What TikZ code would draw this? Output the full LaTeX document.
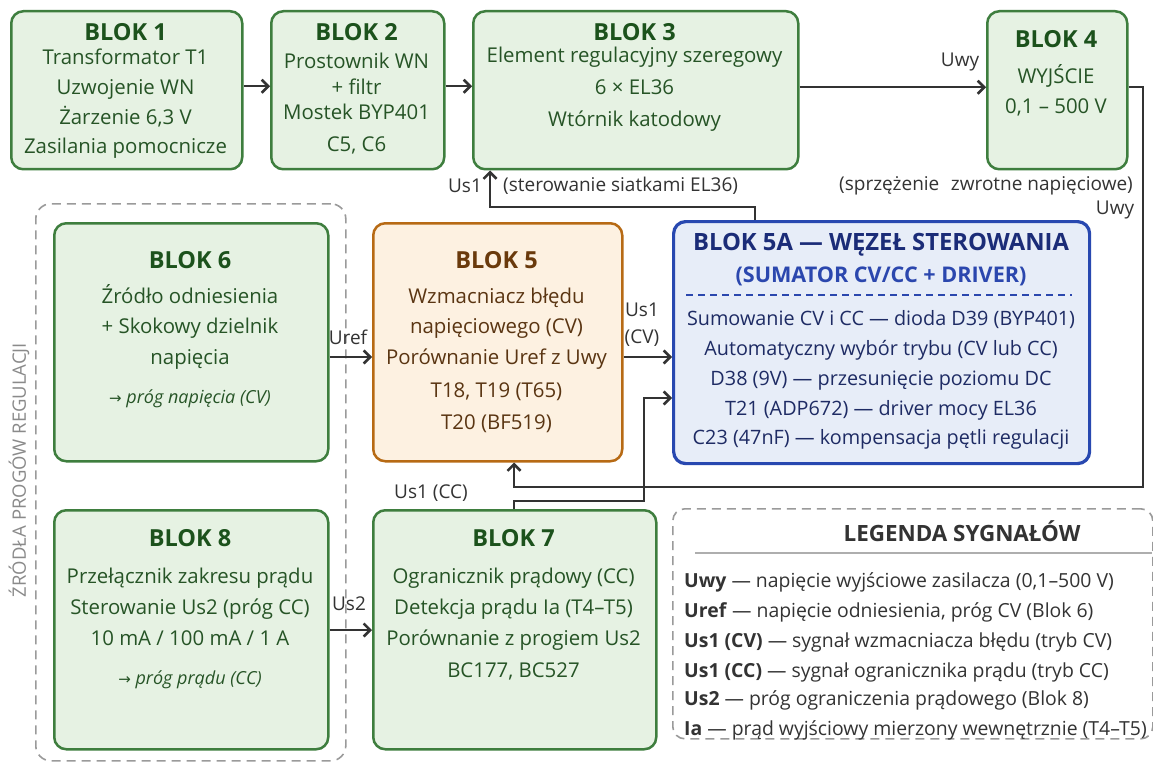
\documentclass[tikz,border=0pt]{standalone}
\usepackage{fontspec}
\setmainfont{Open Sans}
\newfontfamily\symf{DejaVu Sans}
\usetikzlibrary{arrows.meta}
\definecolor{gborder}{HTML}{3E7E3E}
\definecolor{gfill}{HTML}{E6F2E3}
\definecolor{gtitle}{HTML}{1C521C}
\definecolor{gtext}{HTML}{265426}
\definecolor{oborder}{HTML}{B76A14}
\definecolor{ofill}{HTML}{FDF1E1}
\definecolor{otitle}{HTML}{6A3A0C}
\definecolor{otext}{HTML}{5A3512}
\definecolor{bborder}{HTML}{2848B0}
\definecolor{bfill}{HTML}{E7EDF8}
\definecolor{btitle}{HTML}{1B2C78}
\definecolor{bsub}{HTML}{2B47AE}
\definecolor{btext}{HTML}{1E2B64}
\definecolor{wire}{HTML}{333333}
\definecolor{lgray}{HTML}{9A9A9A}
\definecolor{vgray}{HTML}{8A8A8A}
\begin{document}
\begin{tikzpicture}[x=1pt,y=-1pt,
  box/.style={draw, line width=2.5pt, rounded corners=12pt, anchor=north west, inner sep=0pt},
  gbox/.style={box, draw=gborder, fill=gfill},
  obox/.style={box, draw=oborder, fill=ofill},
  bbox/.style={box, draw=bborder, fill=bfill, line width=3.2pt},
  ttl/.style={font=\bfseries\fontsize{23.5}{27}\selectfont, anchor=base, inner sep=0pt},
  txt/.style={font=\fontsize{20.4}{24}\selectfont, anchor=base, inner sep=0pt},
  itl/.style={font=\itshape\fontsize{18}{22}\selectfont, anchor=base, inner sep=0pt},
  gt/.style={text=gtitle}, gx/.style={text=gtext},
  ot/.style={text=otitle}, ox/.style={text=otext},
  bx/.style={font=\fontsize{19.8}{23}\selectfont, text=btext, anchor=base, inner sep=0pt},
  wl/.style={font=\fontsize{19}{22}\selectfont, text=wire, inner sep=0pt},
  lrow/.style={font=\fontsize{19.4}{23}\selectfont, text=wire, anchor=base west, inner sep=0pt},
  arr/.style={draw=wire, line width=2.5pt, -{Straight Barb[length=6.5pt,width=13pt]}},
  dsh/.style={draw=lgray, line width=1.6pt, dash pattern=on 9pt off 6pt}
]
\useasboundingbox (0,0) rectangle (1153,762);
\fill[white] (0,0) rectangle (1153,762);

% group box
\node[dsh, rounded corners=15pt, anchor=north west, minimum width=310pt, minimum height=557pt, inner sep=0pt] (grp) at (35,203) {};
\node[font=\fontsize{18.5}{22}\selectfont, text=vgray, rotate=90] (grplbl) at (19,470) {ŹRÓDŁA PROGÓW REGULACJI};

% boxes
\node[gbox, minimum width=231pt, minimum height=158pt] (b1) at (10,10) {};
\node[gbox, minimum width=173pt, minimum height=158pt] (b2) at (270,10) {};
\node[gbox, minimum width=325pt, minimum height=158pt] (b3) at (472,10) {};
\node[gbox, minimum width=140pt, minimum height=158pt] (b4) at (986,10) {};
\node[gbox, minimum width=274pt, minimum height=238pt] (b6) at (53,222) {};
\node[obox, minimum width=249pt, minimum height=238pt] (b5) at (372,222) {};
\node[bbox, minimum width=416pt, minimum height=242pt] (b5a) at (672,220) {};
\node[gbox, minimum width=274pt, minimum height=239pt] (b8) at (53,509) {};
\node[gbox, minimum width=283pt, minimum height=239pt] (b7) at (372,509) {};
\node[dsh, rounded corners=12pt, fill=white, anchor=north west, minimum width=480pt, minimum height=230pt, inner sep=0pt] (leg) at (672,508) {};

% Blok 1
\node[ttl,gt] (b1t) at (125.5,41) {BLOK 1};
\node[txt,gx] (b1a) at (125.5,65) {Transformator T1};
\node[txt,gx] (b1b) at (125.5,95) {Uzwojenie WN};
\node[txt,gx] (b1c) at (125.5,125) {Żarzenie 6,3 V};
\node[txt,gx] (b1d) at (125.5,154) {Zasilania pomocnicze};
% Blok 2
\node[ttl,gt] (b2t) at (356.5,41) {BLOK 2};
\node[txt,gx] (b2a) at (356.5,69) {Prostownik WN};
\node[txt,gx] (b2b) at (356.5,95) {+ filtr};
\node[txt,gx] (b2c) at (356.5,120) {Mostek BYP401};
\node[txt,gx] (b2d) at (356.5,152) {C5, C6};
% Blok 3
\node[ttl,gt] (b3t) at (634.5,41) {BLOK 3};
\node[txt,gx] (b3a) at (634.5,63) {Element regulacyjny szeregowy};
\node[txt,gx] (b3b) at (634.5,95) {6 × EL36};
\node[txt,gx] (b3c) at (634.5,127) {Wtórnik katodowy};
% Blok 4
\node[ttl,gt] (b4t) at (1056,48) {BLOK 4};
\node[txt,gx] (b4a) at (1056,84) {WYJŚCIE};
\node[txt,gx] (b4b) at (1056,114) {0,1 – 500 V};
% Blok 6
\node[ttl,gt] (b6t) at (190,268) {BLOK 6};
\node[txt,gx] (b6a) at (190,303) {Źródło odniesienia};
\node[txt,gx] (b6b) at (190,333) {+ Skokowy dzielnik};
\node[txt,gx] (b6c) at (190,364) {napięcia};
\node[itl,gx] (b6d) at (190,403) {{\symf\upshape\fontsize{15}{18}\selectfont →} próg napięcia (CV)};
% Blok 5
\node[ttl,ot] (b5t) at (496.5,268) {BLOK 5};
\node[txt,ox] (b5a1) at (496.5,303) {Wzmacniacz błędu};
\node[txt,ox] (b5a2) at (496.5,333) {napięciowego (CV)};
\node[txt,ox] (b5a3) at (496.5,364) {Porównanie Uref z Uwy};
\node[txt,ox] (b5a4) at (496.5,397) {T18, T19 (T65)};
\node[txt,ox] (b5a5) at (496.5,429) {T20 (BF519)};
% Blok 5A
\node[font=\bfseries\fontsize{23.8}{27}\selectfont, text=btitle, anchor=base, inner sep=0pt] (b5at) at (881,250) {BLOK 5A — WĘZEŁ STEROWANIA};
\node[font=\bfseries\fontsize{21.6}{25}\selectfont, text=bsub, anchor=base, inner sep=0pt] (b5as) at (881,282) {(SUMATOR CV/CC + DRIVER)};
\coordinate (sepL) at (686,295);
\coordinate (sepR) at (1072,295);
\draw[bsub, line width=1.3pt, dash pattern=on 7pt off 5pt] (sepL) -- (sepR);
\node[bx] (b5ab) at (881,325) {Sumowanie CV i CC — dioda D39 (BYP401)};
\node[bx] (b5ac) at (881,355) {Automatyczny wybór trybu (CV lub CC)};
\node[bx] (b5ad) at (881,385) {D38 (9V) — przesunięcie poziomu DC};
\node[bx] (b5ae) at (881,415) {T21 (ADP672) — driver mocy EL36};
\node[bx] (b5af) at (881,444) {C23 (47nF) — kompensacja pętli regulacji};
% Blok 8
\node[ttl,gt] (b8t) at (190,546) {BLOK 8};
\node[txt,gx] (b8a) at (190,583) {Przełącznik zakresu prądu};
\node[txt,gx] (b8b) at (190,614) {Sterowanie Us2 (próg CC)};
\node[txt,gx] (b8c) at (190,645) {10 mA / 100 mA / 1 A};
\node[itl,gx] (b8d) at (190,684) {{\symf\upshape\fontsize{15}{18}\selectfont →} próg prądu (CC)};
% Blok 7
\node[ttl,gt] (b7t) at (513.5,546) {BLOK 7};
\node[txt,gx] (b7a) at (513.5,583) {Ogranicznik prądowy (CC)};
\node[txt,gx] (b7b) at (513.5,614) {Detekcja prądu Ia (T4–T5)};
\node[txt,gx] (b7c) at (513.5,645) {Porównanie z progiem Us2};
\node[txt,gx] (b7d) at (513.5,677) {BC177, BC527};
% Legend
\node[font=\bfseries\fontsize{22.4}{26}\selectfont, text=wire, anchor=base, inner sep=0pt] (legt) at (962,541) {LEGENDA SYGNAŁÓW};
\coordinate (legL) at (695,553);
\coordinate (legR) at (1152,553);
\draw[lgray!80, line width=1.4pt] (legL) -- (legR);
\node[lrow] (l1) at (684,587) {\textbf{Uwy} — napięcie wyjściowe zasilacza (0,1–500 V)};
\node[lrow] (l2) at (684,617) {\textbf{Uref} — napięcie odniesienia, próg CV (Blok 6)};
\node[lrow] (l3) at (684,647) {\textbf{Us1 (CV)} — sygnał wzmacniacza błędu (tryb CV)};
\node[lrow] (l4) at (684,677) {\textbf{Us1 (CC)} — sygnał ogranicznika prądu (tryb CC)};
\node[lrow] (l5) at (684,705) {\textbf{Us2} — próg ograniczenia prądowego (Blok 8)};
\node[lrow] (l6) at (684,735) {\textbf{Ia} — prąd wyjściowy mierzony wewnętrznie (T4–T5)};

% connectors
\draw[arr] ([yshift=4pt]b1.east) -- ([yshift=4pt]b2.west);
\draw[arr] ([yshift=4pt]b2.east) -- ([yshift=4pt]b3.west);
\draw[arr] ([yshift=3pt]b3.east) -- ([yshift=3pt]b4.east -| b4.west);
\node[wl] (luwy1) at (960,62) {Uwy};

\coordinate (fb1) at (1143,487);
\coordinate (fb2) at (514,487);
\draw[arr] ([yshift=3pt]b4.east) -| (fb1) -- (fb2) -- (fb2 |- b5.south);
\node[wl] (lfb) at (986,186) {(sprzężenie\hspace{0.35em} zwrotne napięciowe)};
\node[wl] (luwy2) at (1115,210) {Uwy};

\coordinate (u1a) at (755,207);
\coordinate (u1b) at (490,207);
\draw[arr] (u1a |- b5a.north) -- (u1a) -- (u1b) -- (u1b |- b3.south);
\node[wl] (lus1a) at (465,186) {Us1};
\node[wl, anchor=west] (lster) at (503,186) {(sterowanie siatkami EL36)};

\coordinate (ur) at (0,357);
\draw[arr] (b6.east |- ur) -- (b5.west |- ur);
\node[wl] (luref) at (348,337) {Uref};
\draw[arr] (b5.east |- ur) -- (b5a.west |- ur);
\node[wl] (lcv1) at (642,310) {Us1};
\node[wl] (lcv2) at (642,338) {(CV)};

\coordinate (us2) at (0,630);
\draw[arr] (b8.east |- us2) -- (b7.west |- us2);
\node[wl] (lus2) at (349,604) {Us2};

\coordinate (c7a) at (514,501);
\coordinate (c7b) at (644,501);
\coordinate (c7c) at (644,398);
\draw[arr] (c7a |- b7.north) -- (c7a) -- (c7b) -- (c7c) -- (c7c -| b5a.west);
\node[wl] (lcc) at (431,493) {Us1 (CC)};
\end{tikzpicture}
\end{document}
